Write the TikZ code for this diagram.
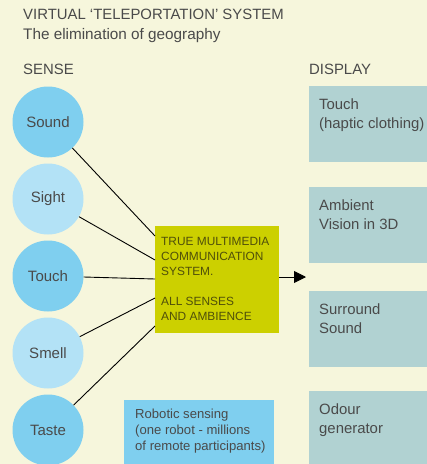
\documentclass[tikz,border=0pt]{standalone}
\usepackage{fontspec}
\setmainfont{Liberation Sans}
\usetikzlibrary{arrows.meta}
\definecolor{bgcream}{RGB}{246,246,220}
\definecolor{bluedark}{RGB}{127,207,239}
\definecolor{bluelight}{RGB}{179,226,246}
\definecolor{yellowbox}{RGB}{204,208,0}
\definecolor{olivetext}{RGB}{80,80,10}
\definecolor{displaybox}{RGB}{177,210,210}
\definecolor{greytext}{RGB}{74,74,74}
\begin{document}
\begin{tikzpicture}[x=1pt,y=-1pt,
  sensecirc/.style={circle,minimum size=71pt,inner sep=0pt,text=greytext,font=\fontsize{15}{17}\selectfont},
  darkc/.style={sensecirc,fill=bluedark},
  lightc/.style={sensecirc,fill=bluelight},
  dispbox/.style={fill=displaybox,draw=none},
  boxtext/.style={anchor=north west,inner sep=0pt,align=left,text=greytext},
  headtext/.style={anchor=base west,inner sep=0pt,text=greytext,font=\fontsize{14.9}{17}\selectfont},
  link/.style={draw=black,line width=0.9pt}
]
\fill[bgcream] (0,0) rectangle (427,464);
\useasboundingbox (0,0) rectangle (427,464);

% titles
\node[headtext] (title) at (23,19) {VIRTUAL ‘TELEPORTATION’ SYSTEM};
\node[headtext,font=\fontsize{15.3}{17}\selectfont] (subtitle) at (23,39) {The elimination of geography};
\node[headtext] (sense) at (23,74) {SENSE};
\node[headtext] (display) at (309,74) {DISPLAY};

% sense circles
\node[darkc] (sound) at (48,122) {Sound};
\node[lightc] (sight) at (48,199) {Sight};
\node[darkc] (touch) at (48,276) {Touch};
\node[lightc] (smell) at (48,353) {Smell};
\node[darkc] (taste) at (48,430) {Taste};

% central box
\node[fill=yellowbox,minimum width=124pt,minimum height=107pt,inner sep=0pt,anchor=north west] (comm) at (155,226) {};
\node[anchor=north west,inner sep=0pt,align=left,text=olivetext,font=\fontsize{11.9}{15}\selectfont] (commtext) at (161,237.3)
  {TRUE MULTIMEDIA\\COMMUNICATION\\SYSTEM.\\[15pt]ALL SENSES\\AND AMBIENCE};

\coordinate (e1) at (155,236);
\coordinate (e2) at (155,260);
\coordinate (e3) at (155,279);
\coordinate (e4) at (155,298);
\coordinate (e5) at (155,326);
\draw[link] (sound) -- (e1);
\draw[link] (sight) -- (e2);
\draw[link] (touch) -- (e3);
\draw[link] (smell) -- (e4);
\draw[link] (taste) -- (e5);

\coordinate (arrowend) at (306,277);
\draw[link,-{Triangle[length=12pt,width=12pt]}] (comm.east |- arrowend) -- (arrowend);

% display boxes
\node[dispbox,minimum width=118pt,minimum height=76pt,inner sep=0pt,anchor=north west] (disp1) at (309,86) {};
\node[dispbox,minimum width=118pt,minimum height=76pt,inner sep=0pt,anchor=north west] (disp2) at (309,187) {};
\node[dispbox,minimum width=118pt,minimum height=76pt,inner sep=0pt,anchor=north west] (disp3) at (309,291) {};
\node[dispbox,minimum width=118pt,minimum height=74pt,inner sep=0pt,anchor=north west] (disp4) at (309,391) {};
\node[boxtext,font=\fontsize{14.9}{19.5}\selectfont] (disp1t) at (319,98) {Touch\\(haptic clothing)};
\node[boxtext,font=\fontsize{14.9}{19.5}\selectfont] (disp2t) at (319,199) {Ambient\\Vision in 3D};
\node[boxtext,font=\fontsize{14.9}{19.5}\selectfont] (disp3t) at (319,303) {Surround\\Sound};
\node[boxtext,font=\fontsize{14.9}{19.5}\selectfont] (disp4t) at (319,403) {Odour\\generator};

% robotic box
\node[fill=bluedark,minimum width=150pt,minimum height=65pt,inner sep=0pt,anchor=north west] (robot) at (124,400) {};
\node[boxtext,font=\fontsize{13.1}{16}\selectfont] (robott) at (135,408.5) {Robotic sensing\\(one robot - millions\\of remote participants)};
\end{tikzpicture}
\end{document}
